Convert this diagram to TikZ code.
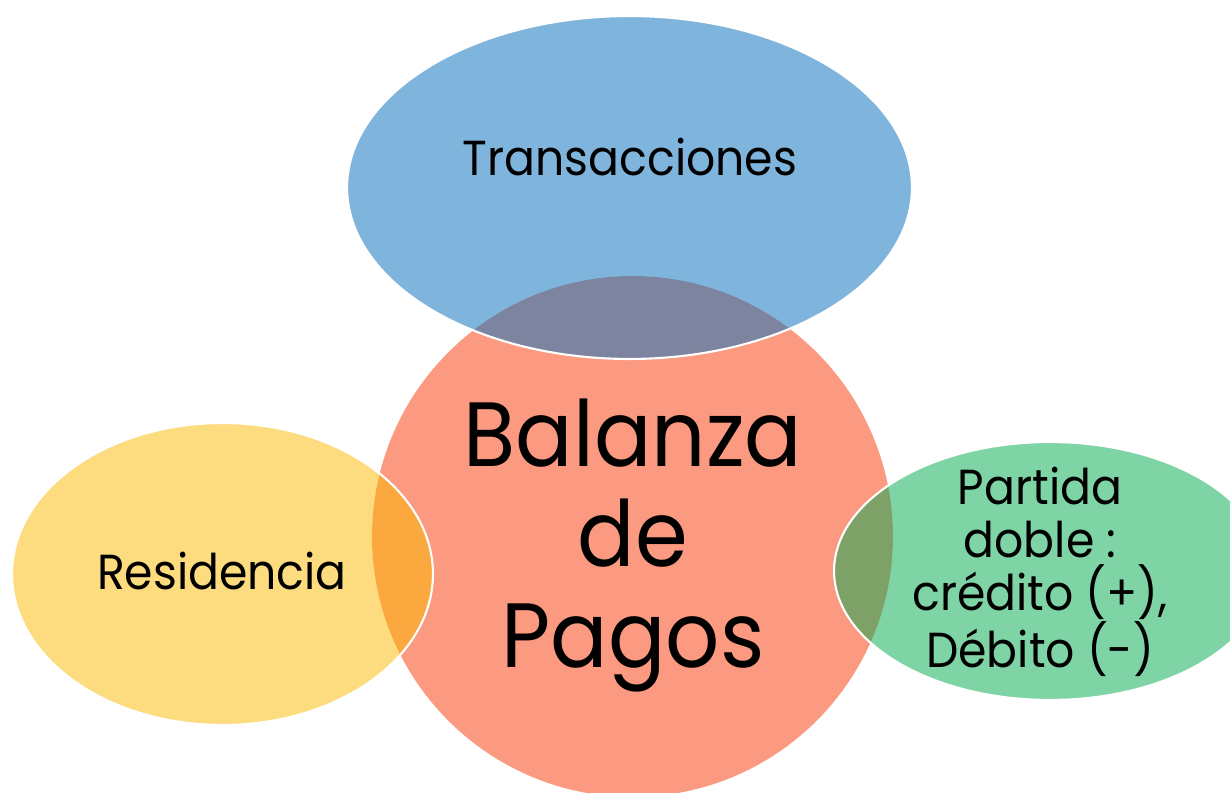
\documentclass[tikz,border=0pt]{standalone}
\usepackage{fontspec}
\setmainfont{Poppins}[FakeStretch=0.93]
\usepackage{tikz}
\usetikzlibrary{shapes.geometric}

\definecolor{salmon}{RGB}{251,154,128}
\definecolor{bpblue}{RGB}{9,113,188}
\definecolor{bpyellow}{RGB}{251,183,0}
\definecolor{bpgreen}{RGB}{0,169,77}

\begin{document}
\begin{tikzpicture}[x=0.02cm, y=-0.02cm,
    bubble/.style={ellipse, draw=white, line width=1.2pt, inner sep=0pt, fill opacity=0.5},
    smalltxt/.style={font=\fontsize{28}{30}\selectfont, align=center, anchor=base},
    bigtxt/.style={font=\fontsize{52}{57}\selectfont, align=center, anchor=base}]
            % Frame of the picture
            \useasboundingbox (0,0) rectangle (1230,793);

            % Central circle
            \node[circle, fill=salmon, inner sep=0pt, minimum size=10.42cm] (bdp) at (632.5,536.5) {};

            % Ellipses laid over the circle
            \node[bubble, fill=bpblue, fill opacity=0.52, minimum width=11.3cm, minimum height=6.86cm] (trans) at (629.5,187.5) {};
            \node[bubble, fill=bpyellow, minimum width=8.42cm, minimum height=6.04cm] (resid) at (222.5,574) {};
            \node[bubble, fill=bpgreen, minimum width=8.64cm, minimum height=5.16cm] (pdoble) at (1050,571) {};

            % Texts (base = baseline of the last line)
            \node[bigtxt] (bdptxt) at (633,667) {Balanza\\de\\Pagos};
            \node[smalltxt] (transtxt) at (630,176) {Transacciones};
            \node[smalltxt] (residtxt) at (222,589) {Residencia};
            \node[smalltxt] (pdobletxt) at (1040,667) {Partida\\doble :\\crédito (+),\\Débito (-)};
\end{tikzpicture}
\end{document}
